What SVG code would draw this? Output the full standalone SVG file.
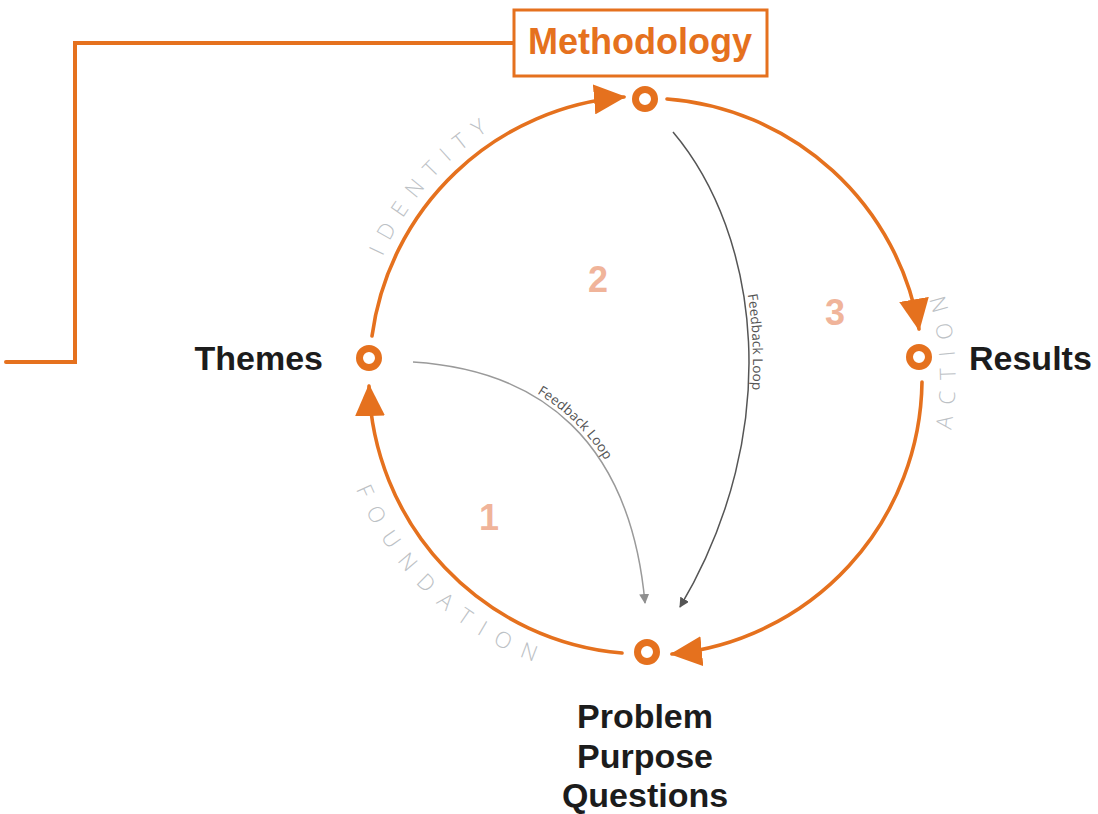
<svg xmlns="http://www.w3.org/2000/svg" xmlns:xlink="http://www.w3.org/1999/xlink" width="1098" height="814" viewBox="0 0 1098 814">
  <style>
    .orange { stroke: #E5711E; fill: none; stroke-linecap: round; }
    .arc { stroke-width: 3.6; }
    .ring { stroke: #E5711E; stroke-width: 7; fill: none; }
    .label { font-family: "Liberation Sans", Arial, sans-serif; font-weight: bold; fill: #1c1c1c; font-size: 34px; }
    .num { font-family: "Liberation Sans", Arial, sans-serif; font-weight: bold; fill: #F0B49A; font-size: 36px; text-anchor: middle; }
    .arctext { font-family: "Open Sans", "Liberation Sans", sans-serif; font-weight: 300; fill: #bcc1c5; font-size: 22px; }
    .fbtext { font-family: "Open Sans", "Liberation Sans", sans-serif; font-size: 13.5px; fill: #555; }
  </style>
  <defs>
    <marker id="bigArrow" markerUnits="userSpaceOnUse" markerWidth="32" markerHeight="30" viewBox="0 0 32 30" refX="30" refY="15" orient="auto">
      <path d="M0,0 L32,15 L0,30 z" fill="#E5711E"/>
    </marker>
    <marker id="grayArrowLight" markerUnits="userSpaceOnUse" markerWidth="10" markerHeight="10" viewBox="0 0 10 10" refX="9" refY="5" orient="auto">
      <path d="M0,0 L10,5 L0,10 z" fill="#8f8f8f"/>
    </marker>
    <marker id="grayArrowDark" markerUnits="userSpaceOnUse" markerWidth="10" markerHeight="10" viewBox="0 0 10 10" refX="9" refY="5" orient="auto">
      <path d="M0,0 L10,5 L0,10 z" fill="#555"/>
    </marker>
    <path id="identityPath" d="M382.6,256.7 A290,290 0 0,1 544.1,101.6"/>
    <path id="foundationPath" d="M356,489 A308,308 0 0,0 564.3,671.5"/>
    <path id="actionPath" d="M951,430 A310,310 0 0,0 925,243"/>
  </defs>

  <g id="connectors">
    <polyline class="orange" stroke-width="4" points="513,43 75,43 75,362 6,362"/>
    <path class="orange arc" d="M372,336 A277,277 0 0,1 624,97" marker-end="url(#bigArrow)"/>
    <path class="orange arc" d="M667,99 A277,277 0 0,1 919,329" marker-end="url(#bigArrow)"/>
    <path class="orange arc" d="M922,382 A277,277 0 0,1 672,654" marker-end="url(#bigArrow)"/>
    <path class="orange arc" d="M622,653 A277,277 0 0,1 369,386" marker-end="url(#bigArrow)"/>
    <path id="fb1" d="M413,362 C540,370 630,440 645,603" fill="none" stroke="#9a9a9a" stroke-width="1.5" marker-end="url(#grayArrowLight)"/>
    <path id="fb2" d="M673,132 C760,235 785,430 680,607" fill="none" stroke="#555" stroke-width="1.5" marker-end="url(#grayArrowDark)"/>
    <text class="fbtext"><textPath xlink:href="#fb1" href="#fb1" startOffset="128"><tspan dy="-4">Feedback Loop</tspan></textPath></text>
    <text class="fbtext"><textPath xlink:href="#fb2" href="#fb2" startOffset="180"><tspan dy="-4">Feedback Loop</tspan></textPath></text>
  </g>

  <g id="methodology">
    <rect x="514" y="10" width="253" height="66" class="orange" stroke-width="3"/>
    <text x="640" y="54" text-anchor="middle" font-family="Liberation Sans, Arial, sans-serif" font-weight="bold" font-size="36" fill="#E5711E">Methodology</text>
  </g>

  <g id="node-top">
    <circle cx="645" cy="99" r="9.5" class="ring"/>
  </g>
  <g id="node-themes">
    <circle cx="369" cy="358" r="9.5" class="ring"/>
    <text x="323" y="370" text-anchor="end" class="label">Themes</text>
  </g>
  <g id="node-results">
    <circle cx="919" cy="357" r="9.5" class="ring"/>
    <text x="969" y="370" class="label">Results</text>
  </g>
  <g id="node-problem">
    <circle cx="647" cy="652" r="9.5" class="ring"/>
    <text x="645" y="728" text-anchor="middle" class="label">Problem</text>
    <text x="645" y="768" text-anchor="middle" class="label">Purpose</text>
    <text x="645" y="807" text-anchor="middle" class="label">Questions</text>
  </g>

  <g id="stage-numbers">
    <text x="489" y="530" class="num">1</text>
    <text x="598" y="292" class="num">2</text>
    <text x="835" y="325" class="num">3</text>
  </g>

  <g id="arc-labels">
    <text class="arctext" letter-spacing="11"><textPath xlink:href="#identityPath" href="#identityPath">IDENTITY</textPath></text>
    <text class="arctext" letter-spacing="13"><textPath xlink:href="#foundationPath" href="#foundationPath">FOUNDATION</textPath></text>
    <text class="arctext" letter-spacing="12"><textPath xlink:href="#actionPath" href="#actionPath">ACTION</textPath></text>
  </g>
</svg>
